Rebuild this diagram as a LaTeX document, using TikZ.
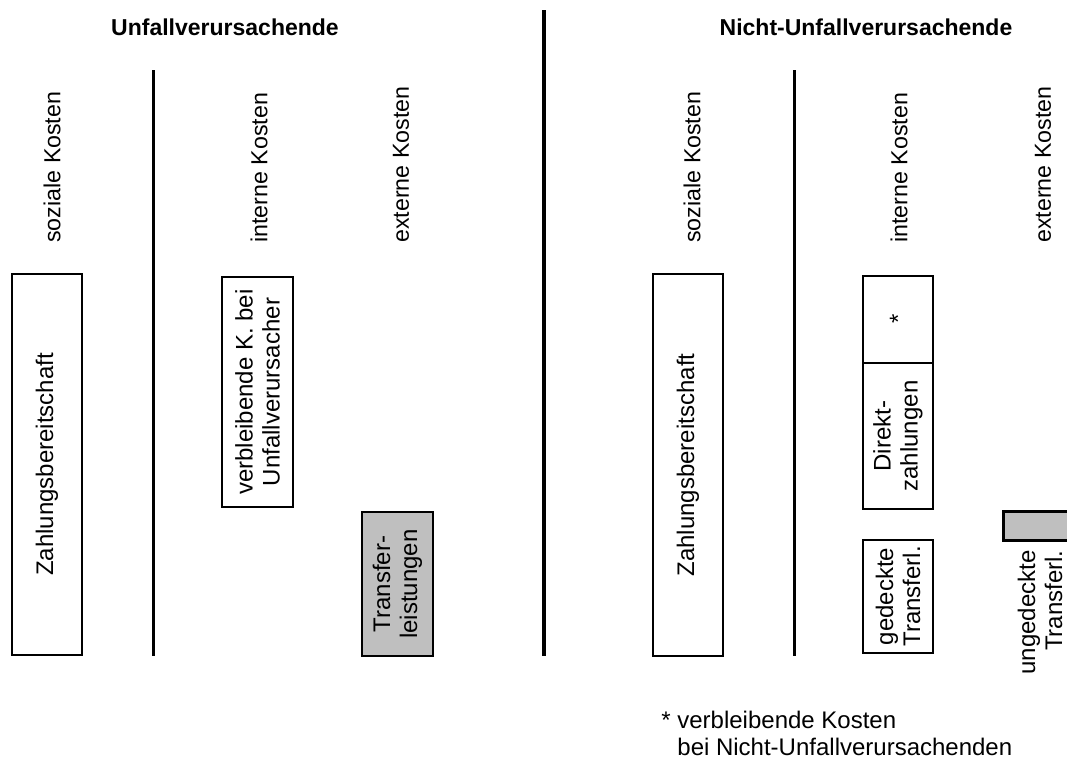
\documentclass[tikz,border=0pt]{standalone}
\usepackage{fontspec}
\setmainfont{Liberation Sans}

\begin{document}
\begin{tikzpicture}[x=0.5pt,y=-0.5pt,
    lbl/.style={rotate=90,inner sep=0pt,anchor=west,font=\fontsize{11.6}{13.5}\selectfont},
    txt/.style={rotate=90,inner sep=0pt,align=center,font=\fontsize{12}{13.5}\selectfont},
    head/.style={inner sep=0pt,font=\fontsize{11.5}{13.5}\selectfont\bfseries},
    kbox/.style={line width=0.75pt},
    gbox/.style={line width=0.75pt,fill=gray!50}]
    \clip (0,0) rectangle (1067,772);
    \useasboundingbox (0,0) rectangle (1067,772);
    \node[head] (titelA) at (225,27) {Unfallverursachende};
    \node[head] (titelB) at (866,27) {Nicht-Unfallverursachende};
    \draw[line width=2pt] (544,10) -- (544,656);
    \draw[line width=1.4pt] (153.5,70) -- (153.5,656);
    \draw[line width=1.4pt] (794.5,70) -- (794.5,656);
    %column heads
    \node[lbl] (sozA) at (52,243) {soziale Kosten};
    \node[lbl] (intA) at (259,243) {interne Kosten};
    \node[lbl] (extA) at (401,243) {externe Kosten};
    \node[lbl] (sozB) at (692,243) {soziale Kosten};
    \node[lbl] (intB) at (899,243) {interne Kosten};
    \node[lbl] (extB) at (1043,243) {externe Kosten};
    %Unfallverursachende
    \draw[kbox] (12,274) rectangle (82,655);
    \node[txt] (zahlA) at (47,464.5) {Zahlungsbereitschaft};
    \draw[kbox] (222,277) rectangle (293,507);
    \node[txt] (restA) at (257.5,392) {verbleibende K. bei\\Unfallverursacher};
    \draw[gbox] (362,512) rectangle (433,656);
    \node[txt] (transA) at (397.5,584) {Transfer-\\leistungen};
    %Nicht-Unfallverursachende
    \draw[kbox] (653,274) rectangle (723,656);
    \node[txt] (zahlB) at (688,465) {Zahlungsbereitschaft};
    \draw[kbox] (863,276) rectangle (933,362.5);
    \node[txt] (stern) at (898,319) {*};
    \draw[kbox] (863,363.5) rectangle (933,509);
    \node[txt] (direkt) at (898,436) {Direkt-\\zahlungen};
    \draw[kbox] (863,540) rectangle (933,653);
    \node[txt] (gedeckt) at (898,596.5) {gedeckte\\Transferl.};
    \draw[gbox,line width=1.5pt] (1003,511) rectangle (1080,540);
    \node[txt,align=right,anchor=east] (ungedeckt) at (1040,550) {ungedeckte\\Transferl.};
    \node[anchor=north west,align=left,inner sep=0pt,font=\fontsize{12}{13.5}\selectfont] (fussnote) at (661,711)
        {*~verbleibende Kosten\\\hphantom{*~}bei Nicht-Unfallverursachenden};
\end{tikzpicture}
\end{document}
